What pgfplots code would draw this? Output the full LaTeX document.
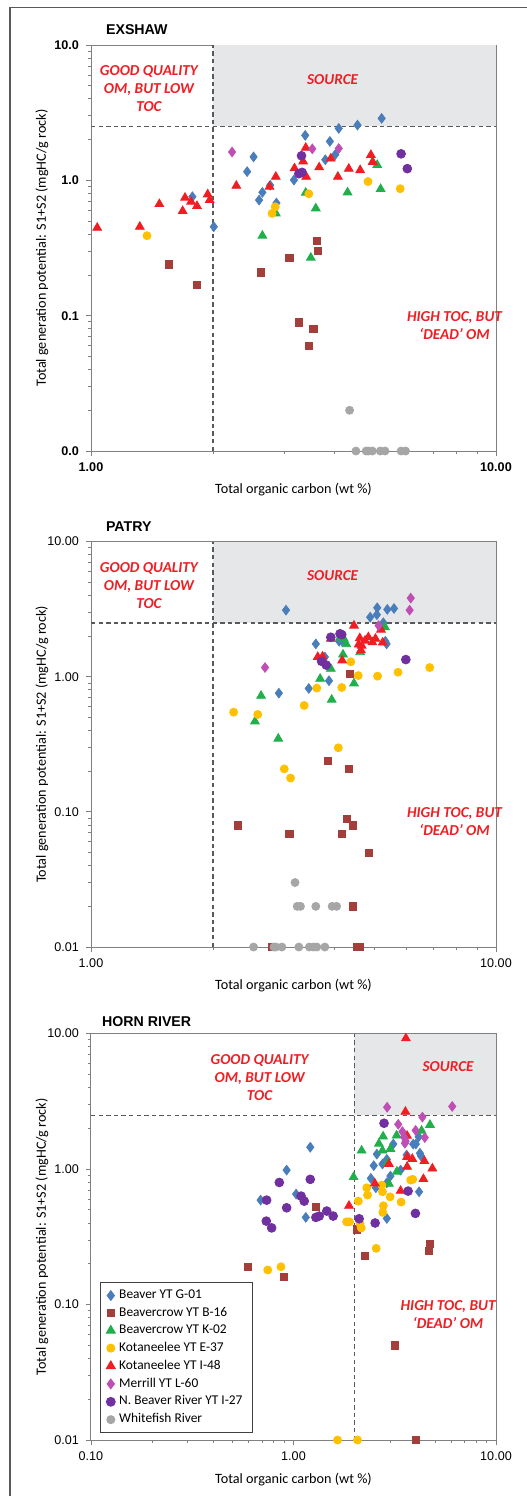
\documentclass[border=0pt]{standalone}
\usepackage{pgfplots}
\pgfplotsset{compat=1.18}
\usepackage{fontspec}
\setmainfont{Carlito}
\newfontfamily\arialfont{Liberation Sans}
\definecolor{cBlue}{HTML}{4A7EBB}
\definecolor{cBrown}{HTML}{A33E3A}
\definecolor{cGreen}{HTML}{1FAF4B}
\definecolor{cYellow}{HTML}{FFC000}
\definecolor{cRed}{HTML}{F01E23}
\definecolor{cMag}{HTML}{BF4FB5}
\definecolor{cPurp}{HTML}{7030A0}
\definecolor{cGray}{HTML}{A6A6A6}
\definecolor{cShade}{HTML}{E6E7E8}
\definecolor{cTxt}{HTML}{F01E23}
\pgfplotsset{
  sB/.style={only marks, mark=diamond*, mark size=2.4pt, color=cBlue},
  sBr/.style={only marks, mark=square*, mark size=1.8pt, color=cBrown},
  sG/.style={only marks, mark=triangle*, mark size=2.5pt, color=cGreen},
  sY/.style={only marks, mark=*, mark size=2pt, color=cYellow},
  sR/.style={only marks, mark=triangle*, mark size=2.5pt, color=cRed},
  sM/.style={only marks, mark=diamond*, mark size=2.4pt, color=cMag},
  sP/.style={only marks, mark=*, mark size=2.2pt, color=cPurp},
  sW/.style={only marks, mark=*, mark size=2pt, color=cGray},
}
\newcommand{\zones}[6]{%
  \fill[cShade] (axis cs:2,2.5) rectangle (axis cs:10,10);
  \draw[black!65, line width=0.6pt, dash pattern=on 2.2pt off 1.6pt] (axis cs:2,0.01) -- (axis cs:2,10);
  \draw[black!65, line width=0.6pt, dash pattern=on 2.2pt off 1.6pt] (axis cs:#1,2.5) -- (axis cs:10,2.5);
  \node[align=center, text=cTxt, font=\bfseries\itshape\fontsize{7.6}{9}\selectfont] at (axis cs:#2,4.75) {GOOD QUALITY\\OM, BUT LOW\\TOC};
  \node[text=cTxt, font=\bfseries\itshape\fontsize{7.6}{9}\selectfont] at (axis cs:#3,#4) {SOURCE};
  \node[align=center, text=cTxt, font=\bfseries\itshape\fontsize{7.6}{9}\selectfont] at (axis cs:#5,#6) {HIGH TOC, BUT\\`DEAD' OM};
}
\begin{document}
\begin{tikzpicture}
\useasboundingbox (0,0) rectangle (263pt,-748pt);
\draw[black!65, line width=0.65pt] (5pt,-760pt) -- (5pt,-3.7pt) -- (270pt,-3.7pt);
% ---------------- EXSHAW
\begin{axis}[at={(45.5pt,-225.5pt)}, anchor=south west, height=203pt,
    scale only axis, width=202.5pt,
    xmode=log, ymode=log, ymin=0.01, ymax=10, xmin=1, xmax=10,
    axis line style={draw=black!50, line width=0.5pt},
    tick align=outside, xtick pos=lower, ytick pos=left,
    major tick length=2.5pt, minor tick length=1.6pt,
    every tick/.style={draw=black!50, line width=0.4pt},
    ytick={0.01,0.1,1,10},
    minor ytick={0.02,0.03,0.04,0.05,0.06,0.07,0.08,0.09,0.2,0.3,0.4,0.5,0.6,0.7,0.8,0.9,2,3,4,5,6,7,8,9},
    clip=false,
    xlabel={Total organic carbon (wt \%)},
    ylabel={Total generation potential: S1+S2 (mgHC/g rock)},
    label style={font=\fontsize{7.1}{8}\selectfont},
    xlabel style={at={(axis description cs:0.5,-0.096)}, anchor=center},
    ylabel style={at={(axis description cs:-0.121,0.5)}, anchor=center},
  xtick={1,10}, xticklabels={1.00,10.00}, yticklabels={0.0,0.1,1.0,10.0},
  minor xtick={2,3,4,5,6,7,8,9},
  tick label style={font=\arialfont\bfseries\fontsize{6.3}{7}\selectfont}]
\zones{1}{1.39}{3.95}{5.6}{7.9}{0.085}
\addplot[sB] coordinates {(5.22,2.87)(4.55,2.56)(4.09,2.42)(3.38,2.15)(3.89,1.94)(2.52,1.49)(4.01,1.55)(3.79,1.42)(2.43,1.16)(3.17,1.005)(2.77,0.92)(2.65,0.815)(1.78,0.757)(2.60,0.715)(2.87,0.68)(2.01,0.454)};
\addplot[sBr] coordinates {(3.61,0.358)(3.64,0.30)(3.09,0.268)(1.56,0.239)(2.63,0.209)(1.83,0.169)(3.26,0.0892)(3.54,0.0796)(3.45,0.06)};
\addplot[sG] coordinates {(5.09,1.30)(4.30,0.815)(5.19,0.863)(3.59,0.621)(3.39,0.81)(2.86,0.57)(2.65,0.39)(3.49,0.268)};
\addplot[sY] coordinates {(4.83,0.98)(5.80,0.867)(3.45,0.796)(2.85,0.638)(2.80,0.57)(1.375,0.39)};
\addplot[sR] coordinates {(1.036,0.446)(1.32,0.454)(1.475,0.668)(1.684,0.593)(1.707,0.744)(1.766,0.695)(1.827,0.646)(1.942,0.788)(1.964,0.715)(2.285,0.912)(2.76,0.897)(2.86,1.063)(3.18,1.227)(3.34,1.38)(3.39,1.74)(3.40,1.063)(3.66,1.248)(3.91,1.45)(4.07,1.063)(4.33,1.218)(4.62,1.19)(4.91,1.54)(4.96,1.37)};
\addplot[sM] coordinates {(2.23,1.62)(3.52,1.71)(4.09,1.72)};
\addplot[sP] coordinates {(3.31,1.52)(3.26,1.12)(3.32,1.146)(5.83,1.57)(6.04,1.22)};
\addplot[sW] coordinates {(4.35,0.02)(4.51,0.01)(4.78,0.01)(4.84,0.01)(4.95,0.01)(5.18,0.01)(5.32,0.01)(5.83,0.01)(5.98,0.01)};
\end{axis}
\node[anchor=west, font=\arialfont\bfseries\fontsize{7.1}{8}\selectfont] at (49.5pt,-15pt) {EXSHAW};
% ---------------- PATRY
\begin{axis}[at={(45.5pt,-473.5pt)}, anchor=south west, height=202.7pt,
    scale only axis, width=202.5pt,
    xmode=log, ymode=log, ymin=0.01, ymax=10, xmin=1, xmax=10,
    axis line style={draw=black!50, line width=0.5pt},
    tick align=outside, xtick pos=lower, ytick pos=left,
    major tick length=2.5pt, minor tick length=1.6pt,
    every tick/.style={draw=black!50, line width=0.4pt},
    ytick={0.01,0.1,1,10},
    minor ytick={0.02,0.03,0.04,0.05,0.06,0.07,0.08,0.09,0.2,0.3,0.4,0.5,0.6,0.7,0.8,0.9,2,3,4,5,6,7,8,9},
    clip=false,
    xlabel={Total organic carbon (wt \%)},
    ylabel={Total generation potential: S1+S2 (mgHC/g rock)},
    label style={font=\fontsize{7.1}{8}\selectfont},
    xlabel style={at={(axis description cs:0.5,-0.096)}, anchor=center},
    ylabel style={at={(axis description cs:-0.121,0.5)}, anchor=center},
    tick label style={font=\arialfont\fontsize{6.3}{7}\selectfont},
  xtick={1,10}, xticklabels={1.00,10.00}, yticklabels={0.01,0.10,1.00,10.00},
  minor xtick={2,3,4,5,6,7,8,9}]
\zones{1}{1.39}{3.95}{5.6}{7.9}{0.085}
\addplot[sB] coordinates {(3.03,3.11)(5.09,3.24)(4.89,2.76)(5.08,2.88)(5.39,3.15)(5.60,3.20)(5.27,2.51)(3.59,1.75)(4.10,1.83)(5.33,1.83)(5.37,1.75)(4.16,1.85)(3.78,1.40)(3.87,0.934)(3.45,0.819)(2.91,0.756)};
\addplot[sBr] coordinates {(4.35,1.05)(3.85,0.237)(4.34,0.208)(4.29,0.089)(4.43,0.0794)(4.17,0.069)(2.31,0.0794)(3.09,0.069)(4.86,0.0495)(4.43,0.02)(2.80,0.01)(4.53,0.01)(4.62,0.01)};
\addplot[sG] coordinates {(5.32,2.33)(4.12,1.95)(4.21,1.91)(4.27,1.74)(4.19,1.46)(3.91,1.146)(3.68,0.966)(4.46,0.892)(3.93,0.676)(2.63,0.723)(2.54,0.467)(2.90,0.348)(4.62,1.52)};
\addplot[sY] coordinates {(4.38,1.29)(4.57,1.02)(5.10,1.01)(5.73,1.08)(6.86,1.17)(3.61,0.824)(4.16,0.833)(3.36,0.613)(2.25,0.547)(2.58,0.526)(4.08,0.298)(3.00,0.208)(3.11,0.178)};
\addplot[sR] coordinates {(4.46,2.39)(5.20,2.23)(3.91,1.91)(4.61,1.93)(4.84,1.96)(5.04,1.91)(4.95,1.80)(5.25,1.79)(4.58,1.73)(4.66,1.70)(4.64,1.57)(3.63,1.40)(3.73,1.41)(4.17,1.32)(4.75,1.85)};
\addplot[sM] coordinates {(6.16,3.82)(6.12,3.11)(5.13,2.39)(2.69,1.17)};
\addplot[sP] coordinates {(3.91,1.96)(4.12,2.08)(4.16,2.05)(3.71,1.30)(3.81,1.22)(5.99,1.34)};
\addplot[sW] coordinates {(3.19,0.03)(3.23,0.02)(3.29,0.02)(3.59,0.02)(3.94,0.02)(4.04,0.02)(2.52,0.01)(2.83,0.01)(2.86,0.01)(2.96,0.01)(3.26,0.01)(3.46,0.01)(3.54,0.01)(3.61,0.01)(3.78,0.01)};
\end{axis}
\node[anchor=west, font=\arialfont\bfseries\fontsize{7.1}{8}\selectfont] at (49.5pt,-263.3pt) {PATRY};
% ---------------- HORN RIVER
\begin{axis}[at={(45.5pt,-720pt)}, anchor=south west, height=203.2pt,
    scale only axis, width=202.5pt,
    xmode=log, ymode=log, ymin=0.01, ymax=10, xmin=0.1, xmax=10,
    axis line style={draw=black!50, line width=0.5pt},
    tick align=outside, xtick pos=lower, ytick pos=left,
    major tick length=2.5pt, minor tick length=1.6pt,
    every tick/.style={draw=black!50, line width=0.4pt},
    ytick={0.01,0.1,1,10},
    minor ytick={0.02,0.03,0.04,0.05,0.06,0.07,0.08,0.09,0.2,0.3,0.4,0.5,0.6,0.7,0.8,0.9,2,3,4,5,6,7,8,9},
    clip=false,
    xlabel={Total organic carbon (wt \%)},
    ylabel={Total generation potential: S1+S2 (mgHC/g rock)},
    label style={font=\fontsize{7.1}{8}\selectfont},
    xlabel style={at={(axis description cs:0.5,-0.096)}, anchor=center},
    ylabel style={at={(axis description cs:-0.121,0.5)}, anchor=center},
    tick label style={font=\arialfont\fontsize{6.3}{7}\selectfont},
  xtick={0.1,1,10}, xticklabels={0.10,1.00,10.00}, yticklabels={0.01,0.10,1.00,10.00},
  minor xtick={0.2,0.3,0.4,0.5,0.6,0.7,0.8,0.9,2,3,4,5,6,7,8,9},
  legend style={at={(axis description cs:0.022,0.0165)}, anchor=south west, draw=black!75, line width=0.5pt,
    font=\fontsize{6.7}{7.5}\selectfont, row sep=-1.2pt, inner xsep=3pt, inner ysep=1.5pt},
  legend cell align=left]
\zones{0.1}{0.68}{5.8}{5.7}{5.8}{0.085}
\addplot[sB] coordinates {(1.21,1.45)(0.925,0.983)(0.688,0.590)(1.03,0.654)(1.15,0.44)(3.11,1.53)(3.90,1.53)(4.02,1.53)(4.15,1.73)(2.58,1.29)(2.89,1.18)(2.75,1.09)(2.49,1.06)(4.21,1.31)(4.26,1.25)(3.62,1.27)(3.38,0.983)(3.01,0.888)(2.41,0.854)(2.55,0.728)(2.89,0.792)(4.17,0.68)(2.89,0.432)};
\addlegendentry{Beaver YT G-01}
\addplot[sBr] coordinates {(1.29,0.527)(2.05,0.359)(4.71,0.279)(4.65,0.249)(2.26,0.229)(0.596,0.19)(0.897,0.16)(3.16,0.0499)(4.01,0.01)};
\addlegendentry{Beavercrow YT B-16}
\addplot[sG] coordinates {(4.72,2.12)(4.29,1.92)(2.77,1.74)(3.23,1.77)(2.64,1.54)(3.01,1.41)(2.75,1.37)(2.17,1.37)(1.98,0.873)(3.24,0.958)(2.96,0.779)(2.92,1.11)};
\addlegendentry{Beavercrow YT K-02}
\addplot[sY] coordinates {(2.30,0.728)(2.73,0.762)(2.75,0.68)(3.00,0.624)(2.32,0.643)(2.09,0.58)(2.78,0.536)(2.76,0.479)(3.40,0.571)(3.79,0.83)(3.88,0.84)(1.83,0.408)(1.89,0.408)(2.13,0.397)(2.16,0.368)(2.56,0.26)(0.746,0.18)(0.867,0.19)(1.65,0.01)(2.07,0.01)};
\addlegendentry{Kotaneelee YT E-37}
\addplot[sR] coordinates {(3.59,9.23)(3.57,2.65)(3.64,1.76)(3.64,1.23)(3.86,1.19)(4.43,1.146)(2.96,1.09)(3.64,1.04)(4.85,1.01)(4.38,0.844)(2.52,0.784)(3.38,0.691)(1.88,0.536)};
\addlegendentry{Kotaneelee YT I-48}
\addplot[sM] coordinates {(2.90,2.86)(6.08,2.90)(4.33,2.42)(3.29,2.14)(4.01,1.93)(3.45,1.89)(3.51,1.73)(4.45,1.71)(3.58,1.61)(3.55,1.55)};
\addlegendentry{Merrill YT L-60}
\addplot[sP] coordinates {(2.80,2.18)(0.851,0.797)(1.21,0.84)(0.737,0.59)(1.09,0.632)(1.13,0.58)(0.925,0.518)(1.46,0.49)(1.29,0.44)(1.34,0.45)(1.57,0.45)(0.734,0.413)(0.78,0.368)(2.11,0.43)(2.53,0.40)(3.68,0.688)(4.00,0.471)};
\addlegendentry{N. Beaver River YT I-27}
\addlegendimage{sW}
\addlegendentry{Whitefish River}
\end{axis}
\node[anchor=west, font=\arialfont\bfseries\fontsize{7.1}{8}\selectfont] at (47.5pt,-510.8pt) {HORN RIVER};
\end{tikzpicture}
\end{document}
